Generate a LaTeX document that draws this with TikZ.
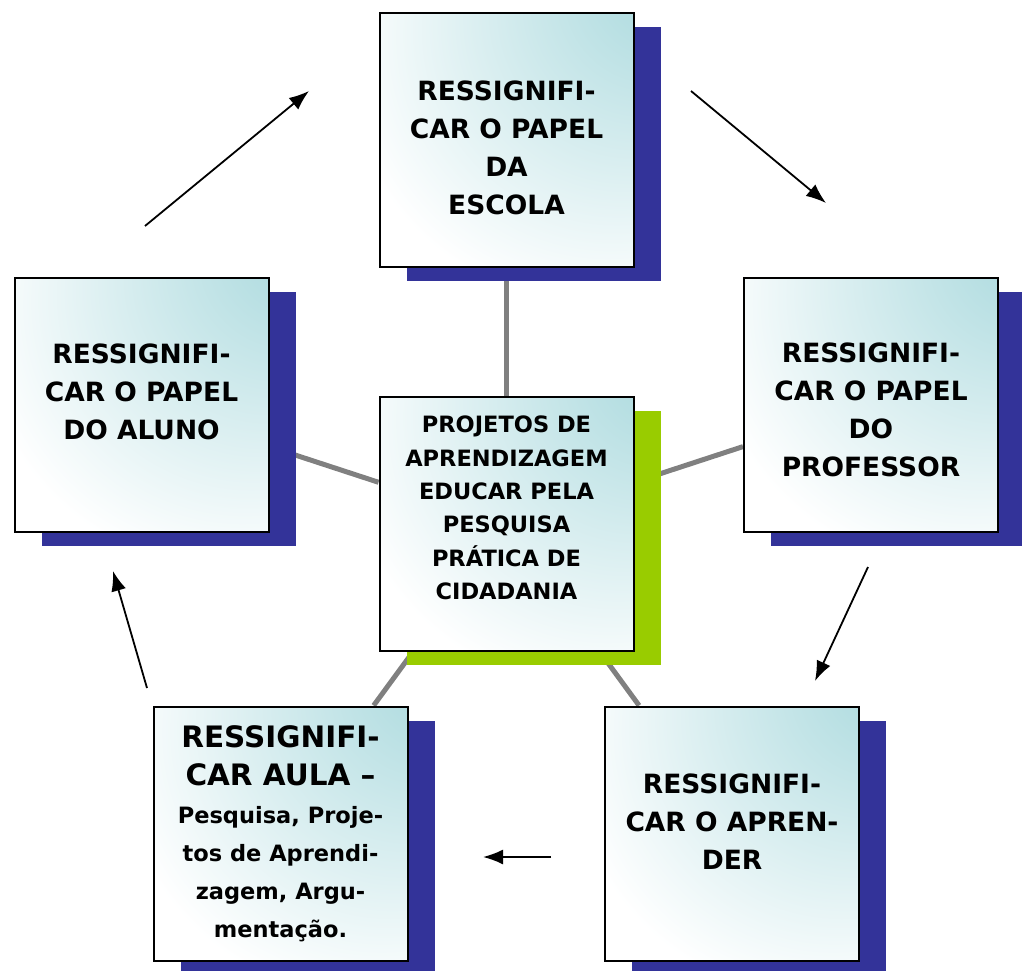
\documentclass[tikz,border=0pt]{standalone}
\usepackage{fontspec}
\setmainfont{DejaVu Sans}
\usetikzlibrary{positioning,shadows,backgrounds,arrows.meta}
\definecolor{azulsombra}{RGB}{51,51,153}
\definecolor{verdesombra}{RGB}{153,204,0}
\definecolor{fundocaixa}{RGB}{174,219,223}
\pgfdeclareradialshading{cantoazul}{\pgfpoint{35bp}{35bp}}{%
  color(0bp)=(fundocaixa); color(6bp)=(fundocaixa);
  color(50bp)=(white); color(100bp)=(white)}
\tikzset{
caixa/.style={
  draw,
  rectangle,
  line width=2pt,
  minimum width=254pt,
  minimum height=254pt,
  shade,
  shading=cantoazul,
  drop shadow={shadow xshift=27pt, shadow yshift=-14pt, fill=#1, opacity=1}
  },
caixa/.default=azulsombra,
texto/.style={
  align=center,
  font=\bfseries\fontsize{26.5}{38}\selectfont
  }
}
\newcommand\letragrande{\fontsize{29.5}{38}\selectfont}

\begin{document}
\begin{tikzpicture}[
    x=1pt, y=-1pt,
    elo/.style={draw=gray, line width=5pt},
    seta/.style={->, line width=1.8pt},
    >={Latex[length=20pt,width=15pt]}
    ]
\useasboundingbox (0,0) rectangle (1022,971);
\node[caixa] (escola) at (506.5,140) {};
\node[caixa] (aluno) at (141.5,405) {};
\node[caixa] (professor) at (871,405) {};
\node[caixa=verdesombra] (projetos) at (506.5,524) {};
\node[caixa] (aula) at (280.5,833.5) {};
\node[caixa] (aprender) at (732,833.5) {};
% ligacoes ao centro
\begin{scope}[on background layer]
\foreach \n in {escola,aluno,professor,aula,aprender}
  \draw[elo] (projetos) -- (\n);
\end{scope}
\node[texto] (escola-t) at ([yshift=-8pt]escola) {RESSIGNIFI-\\CAR O PAPEL\\DA\\ESCOLA};
\node[texto] (aluno-t) at ([yshift=13pt]aluno) {RESSIGNIFI-\\CAR O PAPEL\\DO ALUNO};
\node[texto] (professor-t) at ([yshift=-5pt]professor) {RESSIGNIFI-\\CAR O PAPEL\\DO\\PROFESSOR};
\node[texto] (aprender-t) at ([yshift=12pt]aprender) {RESSIGNIFI-\\CAR O APREN-\\DER};
\node[texto, font=\bfseries\fontsize{22.5}{33.4}\selectfont] (projetos-t) at ([yshift=16pt]projetos)
  {PROJETOS DE\\APRENDIZAGEM\\EDUCAR PELA\\PESQUISA\\PRÁTICA DE\\CIDADANIA};
\node[texto, font=\bfseries\fontsize{22.5}{38}\selectfont] (aula-t) at (aula)
  {\letragrande RESSIGNIFI-\\\letragrande CAR AULA –\\Pesquisa, Proje-\\tos de Aprendi-\\zagem, Argu-\\mentação.};
% ciclo de setas
\coordinate (ini1) at (145,226);  \coordinate (fim1) at (309,91);
\coordinate (ini2) at (691,91);   \coordinate (fim2) at (826,203);
\coordinate (ini3) at (868,567);  \coordinate (fim3) at (815,681);
\coordinate (ini4) at (551,857);  \coordinate (fim4) at (483,857);
\coordinate (ini5) at (147,688);  \coordinate (fim5) at (113,571);
\foreach \i in {1,...,5}
  \draw[seta] (ini\i) -- (fim\i);
\end{tikzpicture}
\end{document}
